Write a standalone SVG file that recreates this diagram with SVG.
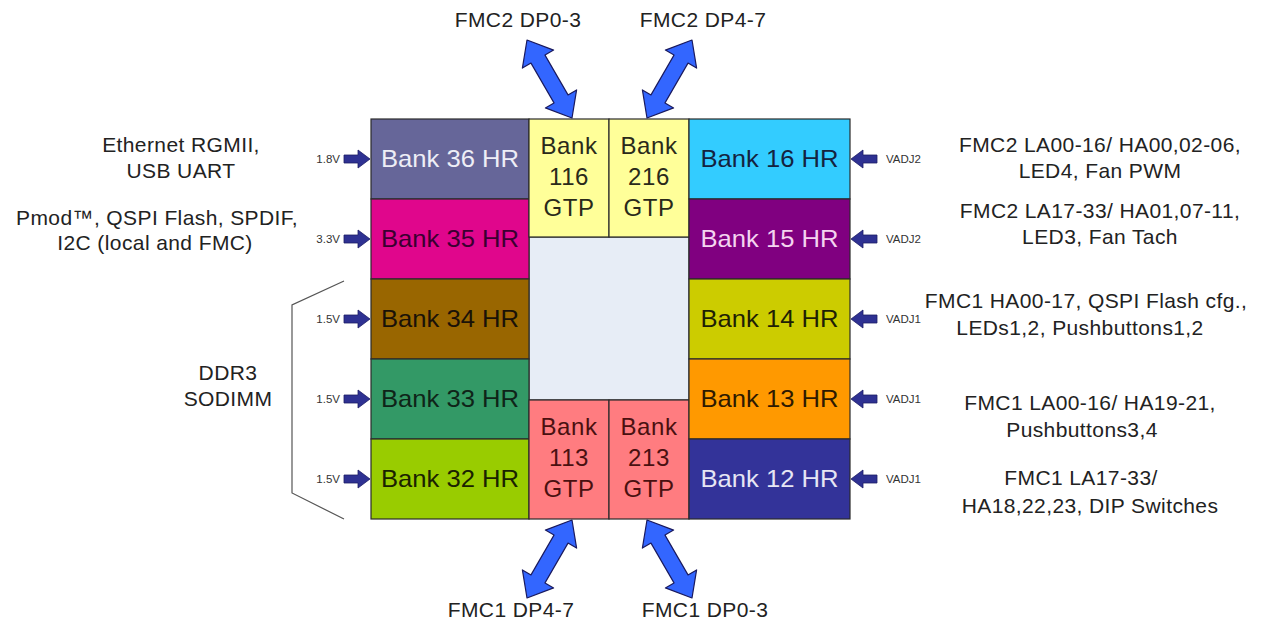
<svg xmlns="http://www.w3.org/2000/svg" xmlns:xlink="http://www.w3.org/1999/xlink" width="1266" height="626" viewBox="0 0 1266 626">
<style>
text{font-family:"Liberation Sans",Arial,sans-serif}
.cell{stroke:#2b2b2b;stroke-width:1.2}
.bl{font-size:24px;text-anchor:middle}
.gt{font-size:24px;text-anchor:middle;letter-spacing:0.6px}
.lbl{font-size:21px;fill:#222;text-anchor:middle;letter-spacing:0.4px}
.v{font-size:11.5px;fill:#333}
.big{fill:#3366ff;stroke:#1a1a5e;stroke-width:1.2;stroke-linejoin:round}
.sm{fill:#2e3192;stroke:#1c1c66;stroke-width:0.8}
</style>
<defs>
<polygon id="dbl" points="527,40 553.6,50.1 545,55.1 568,94.9 576.6,89.9 572,118 545.4,107.9 554,102.9 531,63.1 522.4,68.1"/>
<path id="sa" d="M0,0 L-12,-9 L-12,-4 L-26,-4 L-26,4 L-12,4 L-12,9 Z"/>
</defs>
<rect width="1266" height="626" fill="#ffffff"/>

<g id="center"><rect class="cell" x="529" y="237" width="160" height="163" fill="#e7edf6"/></g>

<g id="bank36"><rect class="cell" x="371" y="119" width="158" height="80" fill="#666699"/><text class="bl" x="450" y="167" fill="#eeeef6" textLength="138" lengthAdjust="spacingAndGlyphs">Bank 36 HR</text></g>
<g id="bank35"><rect class="cell" x="371" y="199" width="158" height="80" fill="#e0068c"/><text class="bl" x="450" y="247" fill="#3a0030" textLength="138" lengthAdjust="spacingAndGlyphs">Bank 35 HR</text></g>
<g id="bank34"><rect class="cell" x="371" y="279" width="158" height="80" fill="#996600"/><text class="bl" x="450" y="327" fill="#1a1208" textLength="138" lengthAdjust="spacingAndGlyphs">Bank 34 HR</text></g>
<g id="bank33"><rect class="cell" x="371" y="359" width="158" height="80" fill="#339966"/><text class="bl" x="450" y="407" fill="#0f2418" textLength="138" lengthAdjust="spacingAndGlyphs">Bank 33 HR</text></g>
<g id="bank32"><rect class="cell" x="371" y="439" width="158" height="80" fill="#99cc00"/><text class="bl" x="450" y="487" fill="#1a2200" textLength="138" lengthAdjust="spacingAndGlyphs">Bank 32 HR</text></g>

<g id="bank116"><rect class="cell" x="529" y="119" width="80" height="118" fill="#ffff99"/><text class="gt" fill="#2a2a1a"><tspan x="569" y="154">Bank</tspan><tspan x="569" y="185">116</tspan><tspan x="569" y="216">GTP</tspan></text></g>
<g id="bank216"><rect class="cell" x="609" y="119" width="80" height="118" fill="#ffff99"/><text class="gt" fill="#2a2a1a"><tspan x="649" y="154">Bank</tspan><tspan x="649" y="185">216</tspan><tspan x="649" y="216">GTP</tspan></text></g>
<g id="bank113"><rect class="cell" x="529" y="400" width="80" height="119" fill="#ff7c80"/><text class="gt" fill="#4a1010"><tspan x="569" y="435">Bank</tspan><tspan x="569" y="466">113</tspan><tspan x="569" y="497">GTP</tspan></text></g>
<g id="bank213"><rect class="cell" x="609" y="400" width="80" height="119" fill="#ff7c80"/><text class="gt" fill="#4a1010"><tspan x="649" y="435">Bank</tspan><tspan x="649" y="466">213</tspan><tspan x="649" y="497">GTP</tspan></text></g>

<g id="bank16"><rect class="cell" x="689" y="119" width="161" height="80" fill="#33ccff"/><text class="bl" x="769.5" y="167" fill="#14233f" textLength="138" lengthAdjust="spacingAndGlyphs">Bank 16 HR</text></g>
<g id="bank15"><rect class="cell" x="689" y="199" width="161" height="80" fill="#800080"/><text class="bl" x="769.5" y="247" fill="#f4d4f0" textLength="138" lengthAdjust="spacingAndGlyphs">Bank 15 HR</text></g>
<g id="bank14"><rect class="cell" x="689" y="279" width="161" height="80" fill="#cccc00"/><text class="bl" x="769.5" y="327" fill="#1f1f05" textLength="138" lengthAdjust="spacingAndGlyphs">Bank 14 HR</text></g>
<g id="bank13"><rect class="cell" x="689" y="359" width="161" height="80" fill="#ff9900"/><text class="bl" x="769.5" y="407" fill="#2e1a00" textLength="138" lengthAdjust="spacingAndGlyphs">Bank 13 HR</text></g>
<g id="bank12"><rect class="cell" x="689" y="439" width="161" height="80" fill="#333399"/><text class="bl" x="769.5" y="487" fill="#e6e6f4" textLength="138" lengthAdjust="spacingAndGlyphs">Bank 12 HR</text></g>

<g id="connectors">
<use xlink:href="#dbl" class="big"/>
<use xlink:href="#dbl" class="big" transform="translate(1219,0) scale(-1,1)"/>
<use xlink:href="#dbl" class="big" transform="translate(0,638) scale(1,-1)"/>
<use xlink:href="#dbl" class="big" transform="translate(1219,638) scale(-1,-1)"/>
<use xlink:href="#sa" class="sm" transform="translate(370,159)"/>
<use xlink:href="#sa" class="sm" transform="translate(370,239)"/>
<use xlink:href="#sa" class="sm" transform="translate(370,319)"/>
<use xlink:href="#sa" class="sm" transform="translate(370,399)"/>
<use xlink:href="#sa" class="sm" transform="translate(370,479)"/>
<use xlink:href="#sa" class="sm" transform="translate(851,159) scale(-1,1)"/>
<use xlink:href="#sa" class="sm" transform="translate(851,239) scale(-1,1)"/>
<use xlink:href="#sa" class="sm" transform="translate(851,319) scale(-1,1)"/>
<use xlink:href="#sa" class="sm" transform="translate(851,399) scale(-1,1)"/>
<use xlink:href="#sa" class="sm" transform="translate(851,479) scale(-1,1)"/>
<polyline points="344,281 292,305 292,493 344,519" fill="none" stroke="#555" stroke-width="1.2"/>
</g>

<g id="voltages">
<text class="v" x="340" y="163" text-anchor="end">1.8V</text>
<text class="v" x="340" y="243" text-anchor="end">3.3V</text>
<text class="v" x="340" y="323" text-anchor="end">1.5V</text>
<text class="v" x="340" y="403" text-anchor="end">1.5V</text>
<text class="v" x="340" y="483" text-anchor="end">1.5V</text>
<text class="v" x="886" y="163">VADJ2</text>
<text class="v" x="886" y="243">VADJ2</text>
<text class="v" x="886" y="323">VADJ1</text>
<text class="v" x="886" y="403">VADJ1</text>
<text class="v" x="886" y="483">VADJ1</text>
</g>

<g id="labels">
<text class="lbl" x="518" y="27">FMC2 DP0-3</text>
<text class="lbl" x="703" y="27">FMC2 DP4-7</text>
<text class="lbl" x="511" y="617">FMC1 DP4-7</text>
<text class="lbl" x="705" y="617">FMC1 DP0-3</text>
<text class="lbl" x="181" y="152">Ethernet RGMII,</text>
<text class="lbl" x="181" y="178">USB UART</text>
<text class="lbl" x="157" y="225">Pmod™, QSPI Flash, SPDIF,</text>
<text class="lbl" x="155" y="250">I2C (local and FMC)</text>
<text class="lbl" x="228" y="380">DDR3</text>
<text class="lbl" x="228" y="406">SODIMM</text>
<text class="lbl" x="1100" y="152">FMC2 LA00-16/ HA00,02-06,</text>
<text class="lbl" x="1100" y="178">LED4, Fan PWM</text>
<text class="lbl" x="1100" y="218">FMC2 LA17-33/ HA01,07-11,</text>
<text class="lbl" x="1100" y="244">LED3, Fan Tach</text>
<text class="lbl" x="1086" y="308">FMC1 HA00-17, QSPI Flash cfg.,</text>
<text class="lbl" x="1080" y="335">LEDs1,2, Pushbuttons1,2</text>
<text class="lbl" x="1090" y="410">FMC1 LA00-16/ HA19-21,</text>
<text class="lbl" x="1082" y="437">Pushbuttons3,4</text>
<text class="lbl" x="1081" y="485">FMC1 LA17-33/</text>
<text class="lbl" x="1090" y="513">HA18,22,23, DIP Switches</text>
</g>
</svg>
